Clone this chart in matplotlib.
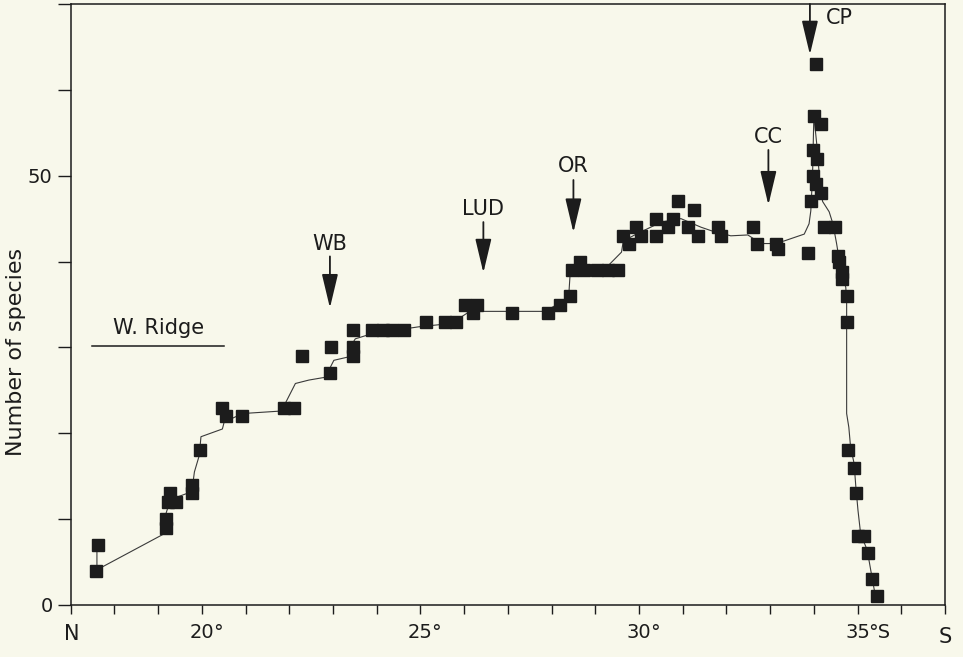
import matplotlib
matplotlib.use("Agg")
import matplotlib.pyplot as plt

# Station latitudes (degrees S) and species counts
lat = [17.62, 17.58, 19.17, 19.17, 19.27, 19.22, 19.42, 19.77, 19.77, 19.96,
       20.47, 20.55, 20.93, 21.89, 22.11, 22.30, 22.96, 22.93, 23.45, 23.45,
       23.45, 23.89, 24.14, 24.35, 24.62, 25.13, 25.56, 25.81, 26.02, 26.29,
       26.20, 27.09, 27.92, 28.19, 28.42, 28.46, 28.65, 28.75, 29.03, 29.30,
       29.53, 29.64, 29.76, 29.94, 30.05, 30.39, 30.39, 30.78, 30.66, 30.89,
       31.26, 31.12, 31.35, 31.80, 31.88, 32.60, 32.71, 33.17, 33.13, 33.86,
       34.04, 34.00, 34.16, 33.97, 34.08, 33.97, 34.04, 34.16, 33.93, 34.23,
       34.48, 34.55, 34.58, 34.65, 34.65, 34.75, 34.75, 34.78, 34.92, 34.96,
       35.00, 35.14, 35.24, 35.34, 35.45]
species = [7, 4, 10, 9, 13, 12, 12, 14, 13, 18,
           23, 22, 22, 23, 23, 29, 30, 27, 32, 30,
           29, 32, 32, 32, 32, 33, 33, 33, 35, 35,
           34, 34, 34, 35, 36, 39, 40, 39, 39, 39,
           39, 43, 42, 44, 43, 43, 45, 45, 44, 47,
           46, 44, 43, 44, 43, 44, 42, 41.5, 42, 41,
           63, 57, 56, 53, 52, 50, 49, 48, 47, 44,
           44, 40.7, 40, 38.8, 38, 36, 33, 18, 16, 13,
           8, 8, 6, 3, 1]

# Hand-fitted trend curve through the stations
trend_lat = [17.60, 17.60, 19.14, 19.17, 19.22, 19.45, 19.77, 19.83, 19.94, 19.98,
             20.47, 20.51, 20.93, 21.84, 21.92, 22.14, 22.45, 22.91, 22.94, 23.02,
             23.36, 23.45, 23.51, 23.89, 24.96, 25.72, 25.95, 26.10, 26.40, 27.85,
             28.30, 28.40, 28.42, 28.46, 28.68, 29.29, 29.60, 29.64, 29.94, 30.51,
             30.96, 31.42, 31.65, 32.10, 32.49, 32.79, 33.02, 33.32, 33.78, 33.89,
             33.93, 33.97, 34.00, 34.08, 34.14, 34.20, 34.35, 34.43, 34.48, 34.52,
             34.61, 34.73, 34.75, 34.75, 34.80, 34.84, 34.92, 34.96, 35.01, 35.07,
             35.22, 35.30, 35.37, 35.41]
trend_val = [6.9, 4.1, 8.3, 10.5, 11.3, 12.6, 13.2, 15.5, 17.4, 19.6,
             20.5, 21.3, 22.3, 22.6, 23.6, 25.8, 26.2, 26.6, 27.7, 28.5,
             28.9, 30.5, 31.0, 31.6, 32.4, 32.8, 33.6, 34.1, 34.2, 34.2,
             35.5, 36.6, 38.2, 39.2, 39.3, 39.5, 41.1, 42.4, 43.2, 44.6,
             45.0, 44.0, 43.6, 43.0, 43.1, 42.1, 42.1, 42.4, 43.2, 44.4,
             45.9, 50.0, 57.0, 53.0, 49.0, 47.0, 45.8, 44.5, 43.2, 42.1,
             39.3, 37.0, 35.5, 22.3, 20.7, 18.4, 16.5, 13.8, 11.0, 8.3,
             6.4, 4.1, 2.1, 1.0]

# Marked sites: name, latitude, arrow tip / tail, label height
site_names = ["WB", "LUD", "OR", "CC", "CP"]
site_lat = [22.93, 26.44, 28.50, 32.96, 33.91]
site_tip = [34.6, 38.7, 43.4, 46.6, 64.1]
site_tail = [40.6, 44.6, 49.5, 53.0, 70.0]
site_label_y = [42.0, 46.1, 51.1, 54.5, 68.4]

ridge_span = [17.49, 20.51]
ridge_level = 30.2

x_major = list(range(17, 38))
x_labels = {20: "20", 25: "25", 30: "30", 35: "35"}
x_suffix = {20: "°", 25: "°", 30: "°", 35: "°S"}
y_major = list(range(0, 71, 10))
y_labels = {0: "0", 50: "50"}

BG = "#F8F8EB"
INK = "#1c1c1c"
FONT = "DejaVu Sans"
plt.rcParams["font.family"] = [FONT]

W, H = 963, 657
fig = plt.figure(figsize=(W / 100, H / 100), dpi=100, facecolor=BG)
ax = fig.add_axes([70.7 / W, 52 / H, (945 - 70.7) / W, 601 / H])
ax.set_facecolor(BG)
ax.set_xlim(17, 37)
ax.set_ylim(0, 70)

for s in ax.spines.values():
    s.set_color(INK)
    s.set_linewidth(1.1)

ax.set_xticks(x_major)
ax.set_xticklabels([])
ax.tick_params(axis="x", direction="out", length=6.5, width=1.0, color=INK)
ax.set_yticks(y_major)
ax.set_yticklabels([y_labels.get(v, "") for v in y_major], fontsize=14, color=INK)
ax.tick_params(axis="y", direction="out", length=9.5, width=1.0, color=INK, pad=3.5)

# x tick labels: number centred on the tick, degree sign trailing
for v, t in x_labels.items():
    ax.annotate(t, xy=(v, 0), xycoords=("data", "axes fraction"),
                xytext=(0, -33), textcoords="offset pixels",
                ha="center", va="baseline", fontsize=14, color=INK)
    ax.annotate(x_suffix[v], xy=(v, 0), xycoords=("data", "axes fraction"),
                xytext=(11, -33), textcoords="offset pixels",
                ha="left", va="baseline", fontsize=14, color=INK)

fig.text(72 / W, 1 - 634 / H, "N", ha="center", va="center", fontsize=15, color=INK)
fig.text(945 / W, 1 - 637 / H, "S", ha="center", va="center", fontsize=15, color=INK)
fig.text(16 / W, 1 - 352 / H, "Number of species", rotation=90,
         ha="center", va="center", fontsize=16, color=INK)

# trend curve and stations
ax.plot(trend_lat, trend_val, color="#3a3a3a", lw=0.8, zorder=2)
ax.plot(lat, species, ls="none", marker="s", markersize=8.3,
        color=INK, markeredgecolor=INK, zorder=3)

# site arrows
for name, x, tip, tail, ly in zip(site_names, site_lat, site_tip, site_tail, site_label_y):
    ax.annotate("", xy=(x, tip), xytext=(x, tail),
                arrowprops=dict(arrowstyle="-|>,head_length=2.1,head_width=0.5",
                                mutation_scale=10, lw=1.3, color=INK,
                                shrinkA=0, shrinkB=0),
                annotation_clip=False, zorder=4)
    if name == "CP":
        ax.text(34.28, ly, name, ha="left", va="center", fontsize=15, color=INK)
    else:
        ax.text(x, ly, name, ha="center", va="center", fontsize=15, color=INK)

# Walvis Ridge extent
ax.plot(ridge_span, [ridge_level, ridge_level], color=INK, lw=1.1)
ax.text(sum(ridge_span) / 2, ridge_level + 0.9, "W. Ridge", ha="center",
        va="bottom", fontsize=15, color=INK)

fig.savefig("out.png", dpi=100, facecolor=BG)
